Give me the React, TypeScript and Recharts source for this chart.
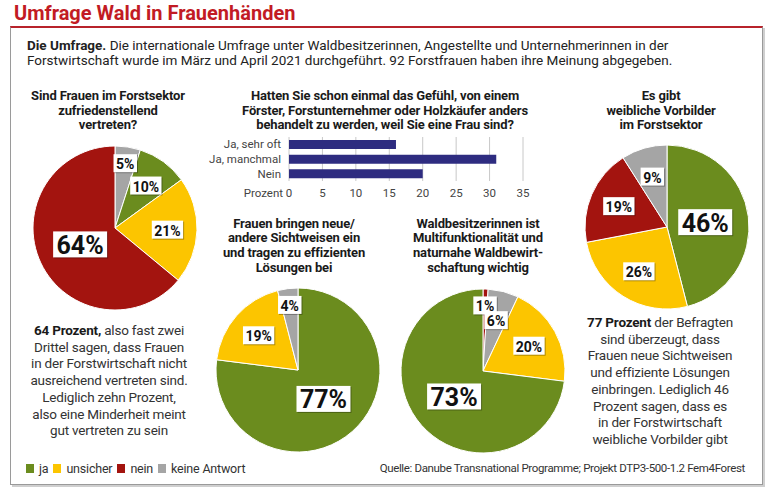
import React from "react";
import { PieChart, Pie, Cell, BarChart, Bar, XAxis, YAxis, CartesianGrid } from "recharts";

const FONT = "Roboto, sans-serif";

const ANSWER_COLORS: Record<string, string> = {
  ja: "#6b8c1e",
  unsicher: "#fcc500",
  nein: "#a3140f",
  "keine Antwort": "#a5a5a5",
};
const legendAnswers = ["ja", "unsicher", "nein", "keine Antwort"];

// Sind Frauen im Forstsektor zufriedenstellend vertreten?
const vertretenAnswers = ["keine Antwort", "ja", "unsicher", "nein"];
const vertretenValues = [5, 10, 21, 64];

// Frauen bringen neue/andere Sichtweisen ein ...
const sichtweisenAnswers = ["ja", "unsicher", "keine Antwort"];
const sichtweisenValues = [77, 19, 4];

// Multifunktionalität und naturnahe Waldbewirtschaftung wichtig
const multifunktionAnswers = ["nein", "keine Antwort", "unsicher", "ja"];
const multifunktionValues = [1, 6, 20, 73];

// Es gibt weibliche Vorbilder im Forstsektor
const vorbilderAnswers = ["ja", "unsicher", "nein", "keine Antwort"];
const vorbilderValues = [46, 26, 19, 9];

// Anders behandelt, weil Frau?
const treatmentCategories = ["Ja, sehr oft", "Ja, manchmal", "Nein"];
const treatmentValues = [16, 31, 20];
const percentTicks = [0, 5, 10, 15, 20, 25, 30, 35];

const RAD = Math.PI / 180;

function renderSliceLabel(props: any) {
  const { cx, cy, midAngle, outerRadius, percent, value } = props;
  const big = percent >= 0.4;
  const f = big ? 0.47 : percent <= 0.05 ? 0.8 : 0.64;
  const r = outerRadius * f;
  const x = cx + r * Math.cos(-midAngle * RAD);
  const y = cy + r * Math.sin(-midAngle * RAD);
  const fs = big ? 25 : 14;
  const w = (String(value).length * 0.56 + 0.76) * fs + (big ? 7 : 5);
  const h = big ? 26 : 18;
  return (
    <g>
      <rect x={x - w / 2 + 1} y={y - h / 2 + 1} width={w} height={h} fill="rgba(0,0,0,0.3)" />
      <rect x={x - w / 2} y={y - h / 2} width={w} height={h} fill="#fff" />
      <text
        x={x}
        y={y + 1}
        textAnchor="middle"
        dominantBaseline="central"
        fontSize={fs}
        fontWeight={700}
        fontFamily={FONT}
        fill="#111"
      >
        {value}%
      </text>
    </g>
  );
}

function SurveyPie({ answers, values, cx, cy }: { answers: string[]; values: number[]; cx: number; cy: number }) {
  const data = answers.map((a, i) => ({ name: a, value: values[i] }));
  return (
    <div style={{ position: "absolute", left: cx - 100, top: cy - 100 }}>
      <PieChart width={200} height={200}>
        <Pie
          data={data}
          dataKey="value"
          cx={100}
          cy={100}
          outerRadius={82}
          startAngle={90}
          endAngle={-270}
          stroke="#fff"
          strokeWidth={1}
          labelLine={false}
          label={renderSliceLabel}
          isAnimationActive={false}
        >
          {data.map((d, i) => (
            <Cell key={`cell-${i}`} fill={ANSWER_COLORS[d.name]} />
          ))}
        </Pie>
      </PieChart>
    </div>
  );
}

const tickStyle = { fontSize: 11.5, fontFamily: FONT, fill: "#444" };

function PercentTick(props: any) {
  const { x, y, payload } = props;
  return (
    <g>
      {payload.value === 0 && (
        <text x={x - 6} y={y} dy="0.71em" textAnchor="end" {...tickStyle}>
          Prozent
        </text>
      )}
      <text x={x} y={y} dy="0.71em" textAnchor="middle" {...tickStyle}>
        {payload.value}
      </text>
    </g>
  );
}

function Block({ left, top, width, lh, size, ls, bold, children }: any) {
  return (
    <div
      style={{
        position: "absolute",
        left,
        top,
        width,
        textAlign: "center",
        fontSize: size,
        lineHeight: `${lh}px`,
        letterSpacing: ls,
        fontWeight: bold ? 700 : 400,
        color: bold ? "#1a1a1a" : "#333",
        whiteSpace: "nowrap",
      }}
    >
      {children}
    </div>
  );
}

export default function App() {
  const treatmentData = treatmentCategories.map((c, i) => ({ name: c, value: treatmentValues[i] }));

  return (
    <div
      style={{
        position: "absolute",
        left: 0,
        top: 0,
        width: 770,
        height: 496,
        background: "#fff",
        fontFamily: FONT,
        overflow: "hidden",
      }}
    >
      <div
        style={{
          position: "absolute",
          left: 14,
          top: 1,
          fontSize: 20,
          lineHeight: "24px",
          fontWeight: 700,
          color: "#c21b24",
        }}
      >
        Umfrage Wald in Frauenhänden
      </div>
      <div
        style={{
          position: "absolute",
          left: 10,
          top: 26,
          width: 751,
          height: 456,
          borderTop: "2px solid #b8232b",
          borderLeft: "1px solid #9a9a9a",
          borderRight: "1px solid #9a9a9a",
          borderBottom: "1px solid #9a9a9a",
          boxShadow: "2px 2px 0 #cfcfcf",
        }}
      />

      <div
        style={{
          position: "absolute",
          left: 27,
          top: 38,
          fontSize: 13.5,
          lineHeight: "15px",
          color: "#222",
          whiteSpace: "nowrap",
        }}
      >
        <b>Die Umfrage.</b> Die internationale Umfrage unter Waldbesitzerinnen, Angestellte und Unternehmerinnen in der
        <br />
        Forstwirtschaft wurde im März und April 2021 durchgeführt. 92 Forstfrauen haben ihre Meinung abgegeben.
      </div>

      <Block left={8} top={89} width={200} lh={14.6} size={13} ls={-0.15} bold>
        Sind Frauen im Forstsektor
        <br />
        zufriedenstellend
        <br />
        vertreten?
      </Block>
      <Block left={235} top={89} width={300} lh={14.6} size={13} ls={-0.15} bold>
        Hatten Sie schon einmal das Gefühl, von einem
        <br />
        Förster, Forstunternehmer oder Holzkäufer anders
        <br />
        behandelt zu werden, weil Sie eine Frau sind?
      </Block>
      <Block left={561} top={89} width={200} lh={14.6} size={13} ls={-0.15} bold>
        Es gibt
        <br />
        weibliche Vorbilder
        <br />
        im Forstsektor
      </Block>
      <Block left={194} top={216.6} width={200} lh={14.8} size={13} ls={-0.15} bold>
        Frauen bringen neue/
        <br />
        andere Sichtweisen ein
        <br />
        und tragen zu effizienten
        <br />
        Lösungen bei
      </Block>
      <Block left={378} top={216.6} width={200} lh={14.8} size={13} ls={-0.15} bold>
        Waldbesitzerinnen ist
        <br />
        Multifunktionalität und
        <br />
        naturnahe Waldbewirt-
        <br />
        schaftung wichtig
      </Block>

      <div style={{ position: "absolute", left: 200, top: 132 }}>
        <BarChart
          width={340}
          height={75}
          layout="vertical"
          data={treatmentData}
          margin={{ top: 5, right: 17, bottom: 0, left: 0 }}
          barSize={9}
        >
          <CartesianGrid horizontal={false} stroke="#c8c8c8" />
          <XAxis
            type="number"
            domain={[0, 35]}
            ticks={percentTicks}
            interval={0}
            axisLine={false}
            tickLine={false}
            height={26}
            tick={<PercentTick />}
          />
          <YAxis
            type="category"
            dataKey="name"
            width={89}
            interval={0}
            axisLine={false}
            tickLine={false}
            tick={tickStyle}
          />
          <Bar dataKey="value" fill="#2e2c80" isAnimationActive={false} />
        </BarChart>
      </div>

      <SurveyPie answers={vertretenAnswers} values={vertretenValues} cx={110} cy={223} />
      <SurveyPie answers={sichtweisenAnswers} values={sichtweisenValues} cx={293} cy={365} />
      <SurveyPie answers={multifunktionAnswers} values={multifunktionValues} cx={478} cy={366} />
      <SurveyPie answers={vorbilderAnswers} values={vorbilderValues} cx={662} cy={222} />

      <Block left={9} top={322} width={200} lh={16.7} size={13.5} ls={-0.2}>
        <b style={{ color: "#1a1a1a" }}>64 Prozent,</b> also fast zwei
        <br />
        Drittel sagen, dass Frauen
        <br />
        in der Forstwirtschaft nicht
        <br />
        ausreichend vertreten sind.
        <br />
        Lediglich zehn Prozent,
        <br />
        also eine Minderheit meint
        <br />
        gut vertreten zu sein
      </Block>
      <Block left={560} top={314} width={200} lh={16.7} size={13.5} ls={-0.2}>
        <b style={{ color: "#1a1a1a" }}>77 Prozent</b> der Befragten
        <br />
        sind überzeugt, dass
        <br />
        Frauen neue Sichtweisen
        <br />
        und effiziente Lösungen
        <br />
        einbringen. Lediglich 46
        <br />
        Prozent sagen, dass es
        <br />
        in der Forstwirtschaft
        <br />
        weibliche Vorbilder gibt
      </Block>

      <div
        style={{
          position: "absolute",
          left: 26,
          top: 459,
          height: 18,
          display: "flex",
          alignItems: "center",
          fontSize: 12.5,
          letterSpacing: -0.2,
          color: "#333",
          whiteSpace: "nowrap",
        }}
      >
        {legendAnswers.map((a) => (
          <span key={a} style={{ display: "flex", alignItems: "center", marginRight: 5 }}>
            <span style={{ width: 8, height: 9, background: ANSWER_COLORS[a], marginRight: 5 }} />
            {a}
          </span>
        ))}
      </div>
      <div
        style={{
          position: "absolute",
          right: 25,
          top: 459,
          lineHeight: "18px",
          fontSize: 11.5,
          letterSpacing: -0.35,
          color: "#333",
          whiteSpace: "nowrap",
        }}
      >
        Quelle: Danube Transnational Programme; Projekt DTP3-500-1.2 Fem4Forest
      </div>
    </div>
  );
}
